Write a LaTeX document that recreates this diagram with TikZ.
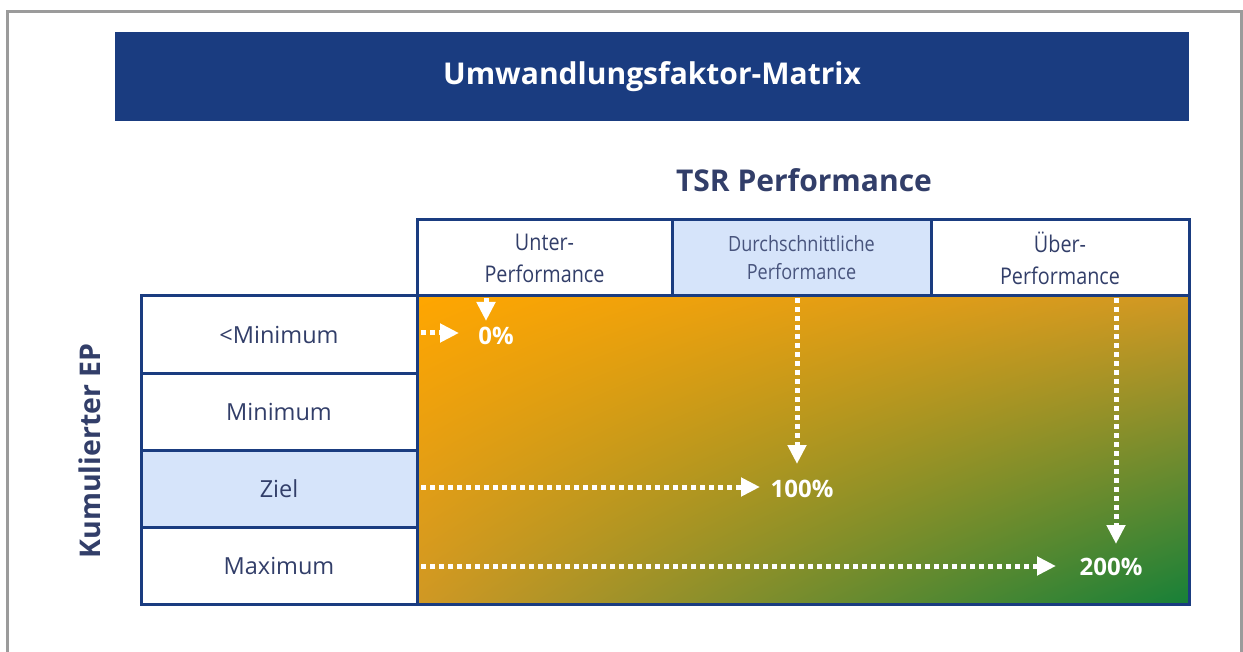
\documentclass[tikz,border=0pt]{standalone}
\usepackage{fontspec}
\setmainfont{Open Sans}
\newfontfamily\condfont[FakeStretch=0.86]{Open Sans}
\usetikzlibrary{arrows.meta,shadings}
\definecolor{navy}{RGB}{26,60,128}
\definecolor{txt}{RGB}{50,62,105}
\definecolor{txtl}{RGB}{72,84,125}
\definecolor{lblue}{RGB}{214,228,250}
\definecolor{frame}{RGB}{155,155,155}
\definecolor{corTL}{RGB}{255,166,0}
\definecolor{corM}{RGB}{208,152,36}
\definecolor{corBR}{RGB}{22,128,56}
\tikzset{
  cell/.style={draw=navy, line width=3pt, fill=white, align=center, inner sep=0pt},
  hdrtxt/.style={text=txt, font=\condfont\fontsize{23}{28}\selectfont},
  rowtxt/.style={text=txt, font=\fontsize{23.5}{28}\selectfont},
  pct/.style={text=white, font=\bfseries\fontsize{24}{28}\selectfont, inner sep=2pt},
  darr/.style={white, line width=5pt, dash pattern=on 5pt off 4pt,
    -{Triangle[width=18pt,length=19pt]}},
}
\begin{document}
\begin{tikzpicture}[x=1pt,y=-1pt]
\useasboundingbox (0,0) rectangle (1243,652);
\clip (0,0) rectangle (1243,652);
\fill[white] (0,0) rectangle (1243,652);
\draw[frame, line width=3pt] (7.5,700) -- (7.5,12) -- (1241.5,12) -- (1241.5,700);
% title
\node[fill=navy, minimum width=1074pt, minimum height=89pt, inner sep=0pt,
  text=white, font=\bfseries\fontsize{30}{34}\selectfont] (title) at (652,76.5) {Umwandlungsfaktor-Matrix};
\node[text=txt, font=\bfseries\fontsize{30}{34}\selectfont] (tsr) at (804,180) {TSR Performance};
\node[text=txt, font=\bfseries\fontsize{28.5}{32}\selectfont, rotate=90] (kep) at (90,451) {Kumulierter EP};
% matrix area
\shade[upper left=corTL, upper right=corM, lower left=corM, lower right=corBR] (417,296) rectangle (1189,604);
\draw[navy, line width=3pt] (417,296) rectangle (1189,604);
% header cells
\node[cell, hdrtxt, minimum width=255pt, minimum height=76pt] (hU) at (544.5,258) {Unter-\\[4pt]Performance};
\node[cell, fill=lblue, text=txtl, font=\condfont\fontsize{21}{26}\selectfont, minimum width=259pt, minimum height=76pt] (hD) at (801.5,258) {Durchschnittliche\\[2pt]Performance};
\node[cell, hdrtxt, minimum width=258pt, minimum height=76pt] (hO) at (1060,258) {Über-\\[4pt]Performance};
% row cells
\node[cell, rowtxt, minimum width=276pt, minimum height=78pt] (r1) at (279,335) {<Minimum};
\node[cell, rowtxt, minimum width=276pt, minimum height=76pt] (r2) at (279,412) {Minimum};
\node[cell, rowtxt, fill=lblue, minimum width=276pt, minimum height=77pt] (r3) at (279,488.5) {Ziel};
\node[cell, rowtxt, minimum width=276pt, minimum height=77pt] (r4) at (279,565.5) {Maximum};
% percent labels
\node[pct] (p0) at (496,336) {0\%};
\node[pct] (p100) at (802,489) {100\%};
\node[pct] (p200) at (1111,567) {200\%};
% arrow anchors
\coordinate (a0) at (486,298);
\coordinate (e0) at (486,321);
\coordinate (b0) at (421,333);
\coordinate (f0) at (459,333);
\coordinate (a1) at (797,298);
\coordinate (e1) at (797,464);
\coordinate (b1) at (421,487);
\coordinate (f1) at (760,487);
\coordinate (a2) at (1116,298);
\coordinate (e2) at (1116,544);
\coordinate (b2) at (421,566);
\coordinate (f2) at (1056,566);
\draw[darr] (a0) -- (e0);
\draw[darr] (b0) -- (f0);
\draw[darr] (a1) -- (e1);
\draw[darr] (b1) -- (f1);
\draw[darr] (a2) -- (e2);
\draw[darr] (b2) -- (f2);
\end{tikzpicture}
\end{document}
